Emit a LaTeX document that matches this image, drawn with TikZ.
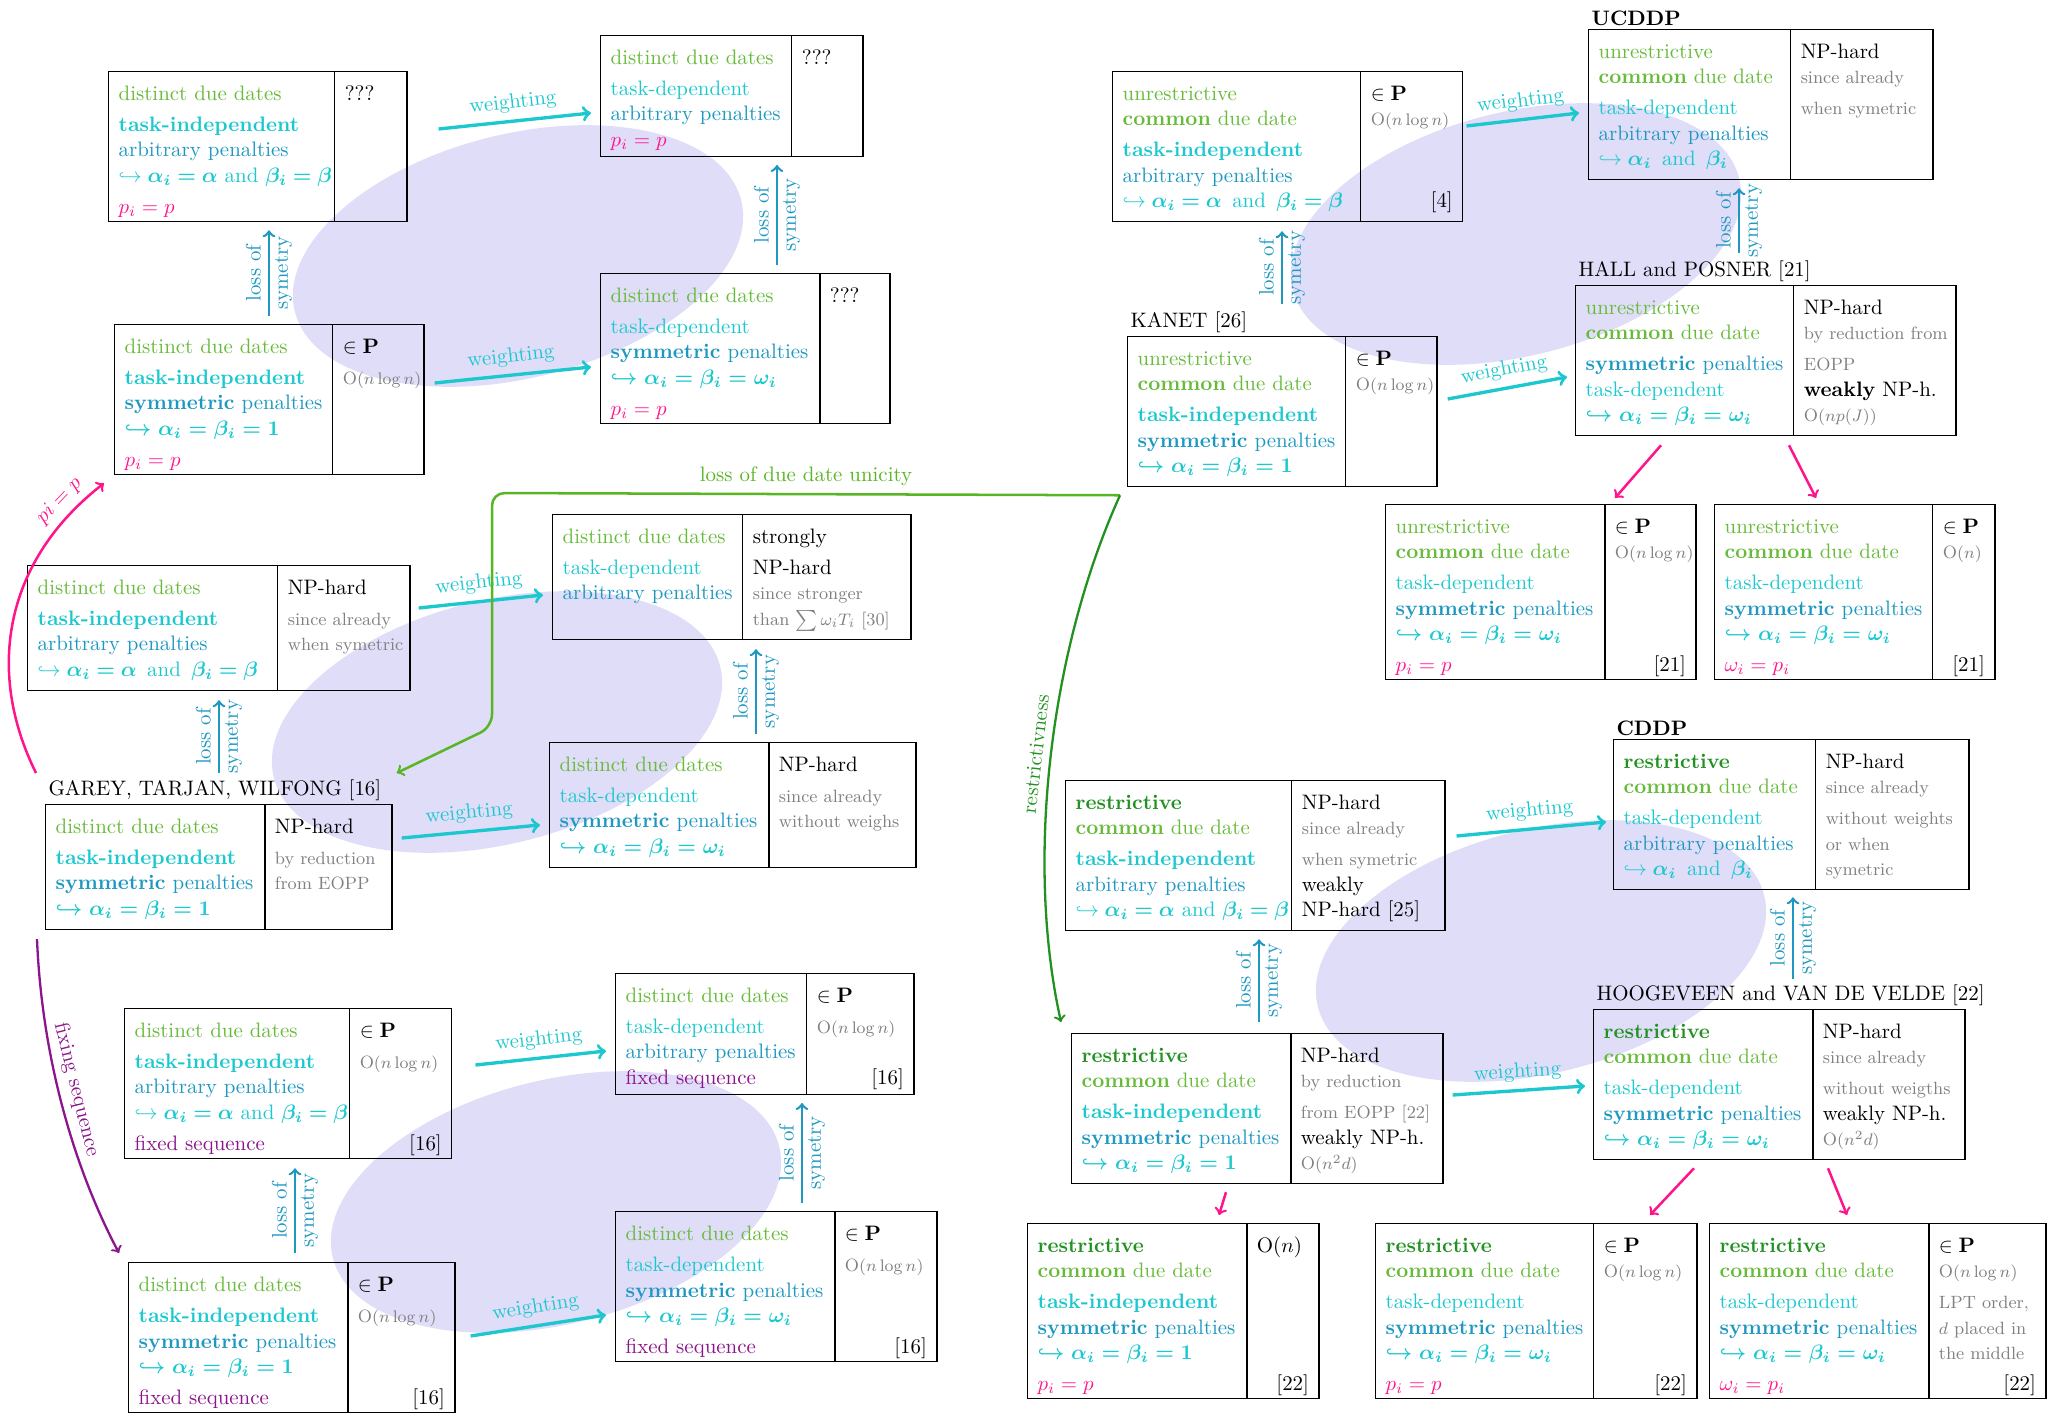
\documentclass[tikz,border=0pt]{standalone}
\usepackage{array}
\usepackage{bm}
\usepackage{tikz}

\definecolor{dgreen}{RGB}{104,186,58}
\definecolor{rgreen}{RGB}{34,145,34}
\definecolor{lgreen}{RGB}{88,182,36}
\definecolor{tcyan}{RGB}{28,200,206}
\definecolor{tblue}{RGB}{30,152,192}
\definecolor{pmag}{RGB}{255,20,140}
\definecolor{fpurple}{RGB}{140,20,140}
\definecolor{notegray}{RGB}{128,128,128}
\definecolor{blobfill}{RGB}{224,221,249}

\setlength{\tabcolsep}{4.5pt}
\setlength{\arrayrulewidth}{0.6pt}

\newcommand{\dued}{\textcolor{dgreen}{distinct due dates}}
\newcommand{\unres}{\textcolor{dgreen}{unrestrictive}}
\newcommand{\restr}{\textcolor{rgreen}{\textbf{restrictive}}}
\newcommand{\comdd}{\textcolor{dgreen}{\textbf{common} due date}}
\newcommand{\tind}{\textcolor{tcyan}{\textbf{task-independent}}}
\newcommand{\tdep}{\textcolor{tcyan}{task-dependent}}
\newcommand{\arbp}{\textcolor{tblue}{arbitrary penalties}}
\newcommand{\symp}{\textcolor{tblue}{\textbf{symmetric} penalties}}
\newcommand{\hkab}{\textcolor{tcyan}{$\hookrightarrow\bm{\alpha_i=\alpha}$ and $\bm{\beta_i=\beta}$}}
\newcommand{\hkabw}{\textcolor{tcyan}{$\hookrightarrow\bm{\alpha_i=\alpha}$\enspace and\enspace$\bm{\beta_i=\beta}$}}
\newcommand{\hkone}{\textcolor{tcyan}{\boldmath$\hookrightarrow\alpha_i=\beta_i=1$}}
\newcommand{\hkw}{\textcolor{tcyan}{\boldmath$\hookrightarrow\alpha_i=\beta_i=\omega_i$}}
\newcommand{\hkaibi}{\textcolor{tcyan}{$\hookrightarrow\bm{\alpha_i}$\enspace and\enspace$\bm{\beta_i}$}}
\newcommand{\pisp}{\textcolor{pmag}{$p_i=p$}}
\newcommand{\wipi}{\textcolor{pmag}{$\omega_i=p_i$}}
\newcommand{\fixseq}{\textcolor{fpurple}{fixed sequence}}
\newcommand{\inP}{$\in\mathbf{P}$}
\newcommand{\gnote}[1]{{\fontsize{8.5pt}{10pt}\selectfont\color{notegray}#1}}
\newcommand{\toprow}{\rule{0pt}{13.5pt}}

\begin{document}
\begin{tikzpicture}[x=0.478pt, y=-0.478pt,
    probbox/.style={anchor=north west, inner sep=0pt, outer sep=0pt},
    boxlbl/.style={anchor=south west, inner sep=1.5pt},
    blob/.style={fill=blobfill},
    weightarr/.style={->, draw=tcyan, line width=1.6pt},
    weightlbl/.style={midway, above, sloped, text=tcyan},
    symarr/.style={->, draw=tblue, line width=1.2pt},
    symlbl/.style={midway, sloped, align=center, text=tblue},
    pinkarr/.style={->, draw=pmag, line width=1.2pt},
    unicarr/.style={->, draw=lgreen, line width=1.2pt, rounded corners=6pt},
    restarr/.style={->, draw=rgreen, line width=1.1pt},
    fixarr/.style={->, draw=fpurple, line width=1.1pt}]
    \useasboundingbox (0,0) rectangle (2067,1415);

    % background blobs
    \fill[blob, rotate around={14:(518,256)}] (518,256) ellipse [x radius=230, y radius=122];
    \fill[blob, rotate around={14:(497,722)}] (497,722) ellipse [x radius=230, y radius=122];
    \fill[blob, rotate around={14:(556,1202)}] (556,1202) ellipse [x radius=230, y radius=122];
    \fill[blob, rotate around={14:(1516,234)}] (1516,234) ellipse [x radius=230, y radius=122];
    \fill[blob, rotate around={14:(1541,951)}] (1541,951) ellipse [x radius=230, y radius=122];

    % distinct due dates
    \node[probbox] (d1) at (108,71) {\begin{tabular}{|w{l}{98.5pt}|w{l}{24.9pt}|}\hline
        \toprow\dued & ??? \\[3pt]
        \tind & \\
        \arbp & \\
        \hkab & \\[3pt]
        \pisp & \\ \hline
    \end{tabular}};
    \node[probbox] (d2) at (600,35) {\begin{tabular}{|w{l}{81.8pt}|w{l}{24.4pt}|}\hline
        \toprow\dued & ??? \\[3pt]
        \tdep & \\
        \arbp & \\
        \pisp & \\[1pt] \hline
    \end{tabular}};
    \node[probbox] (d3) at (114,324) {\begin{tabular}{|w{l}{94.7pt}|w{l}{34pt}|}\hline
        \toprow\dued & \inP \\[3pt]
        \tind & \gnote{O$(n\log n)$} \\
        \symp & \\
        \hkone & \\[3pt]
        \pisp & \\ \hline
    \end{tabular}};
    \node[probbox] (d4) at (600,273) {\begin{tabular}{|w{l}{95.2pt}|w{l}{23.9pt}|}\hline
        \toprow\dued & ??? \\[3pt]
        \tdep & \\
        \symp & \\
        \hkw & \\[3pt]
        \pisp & \\ \hline
    \end{tabular}};
    \node[probbox] (d5) at (27,565) {\begin{tabular}{|w{l}{110pt}|w{l}{53.6pt}|}\hline
        \toprow\dued & NP-hard \\[3pt]
        \tind & \gnote{since already} \\
        \arbp & \gnote{when symetric} \\
        \hkabw & \\[3pt] \hline
    \end{tabular}};
    \node[probbox] (d6) at (552,514) {\begin{tabular}{|w{l}{81.3pt}|w{l}{70.8pt}|}\hline
        \toprow\dued & strongly \\[3pt]
        \tdep & NP-hard \\
        \arbp & \gnote{since stronger} \\
        & \gnote{than $\sum\omega_iT_i$ [30]} \\[3pt] \hline
    \end{tabular}};
    \node[probbox] (d7) at (45,804) {\begin{tabular}{|w{l}{95.2pt}|w{l}{51.2pt}|}\hline
        \toprow\dued & NP-hard \\[3pt]
        \tind & \gnote{by reduction} \\
        \symp & \gnote{from EOPP} \\
        \hkone & \\[3pt] \hline
    \end{tabular}};
    \node[probbox] (d8) at (549,742) {\begin{tabular}{|w{l}{95.2pt}|w{l}{60.7pt}|}\hline
        \toprow\dued & NP-hard \\[3pt]
        \tdep & \gnote{since already} \\
        \symp & \gnote{without weighs} \\
        \hkw & \\[3pt] \hline
    \end{tabular}};
    \node[probbox] (d9) at (124,1008) {\begin{tabular}{|w{l}{98pt}|w{l}{39.2pt}|}\hline
        \toprow\dued & \inP \\[3pt]
        \tind & \gnote{O$(n\log n)$} \\
        \arbp & \\
        \hkab & \\[3pt]
        \fixseq & \hfill[16] \\ \hline
    \end{tabular}};
    \node[probbox] (d10) at (615,973) {\begin{tabular}{|w{l}{81.8pt}|w{l}{41.6pt}|}\hline
        \toprow\dued & \inP \\[3pt]
        \tdep & \gnote{O$(n\log n)$} \\
        \arbp & \\
        \fixseq & \hfill[16] \\[1pt] \hline
    \end{tabular}};
    \node[probbox] (d11) at (128,1262) {\begin{tabular}{|w{l}{95.2pt}|w{l}{41.6pt}|}\hline
        \toprow\dued & \inP \\[3pt]
        \tind & \gnote{O$(n\log n)$} \\
        \symp & \\
        \hkone & \\[3pt]
        \fixseq & \hfill[16] \\ \hline
    \end{tabular}};
    \node[probbox] (d12) at (615,1211) {\begin{tabular}{|w{l}{95.2pt}|w{l}{39.2pt}|}\hline
        \toprow\dued & \inP \\[3pt]
        \tdep & \gnote{O$(n\log n)$} \\
        \symp & \\
        \hkw & \\[3pt]
        \fixseq & \hfill[16] \\ \hline
    \end{tabular}};

    % unrestrictive common due date
    \node[probbox] (u1) at (1112,71) {\begin{tabular}{|w{l}{109pt}|w{l}{39.2pt}|}\hline
        \toprow\unres & \inP \\
        \comdd & \gnote{O$(n\log n)$} \\[3pt]
        \tind & \\
        \arbp & \\
        \hkabw & \hfill[4] \\[3pt] \hline
    \end{tabular}};
    \node[probbox] (u2) at (1588,29) {\begin{tabular}{|w{l}{87pt}|w{l}{58.4pt}|}\hline
        \toprow\unres & NP-hard \\
        \comdd & \gnote{since already} \\[3pt]
        \tdep & \gnote{when symetric} \\
        \arbp & \\
        \hkaibi & \\[3pt] \hline
    \end{tabular}};
    \node[probbox] (u3) at (1127,336) {\begin{tabular}{|w{l}{94.7pt}|w{l}{34pt}|}\hline
        \toprow\unres & \inP \\
        \comdd & \gnote{O$(n\log n)$} \\[3pt]
        \tind & \\
        \symp & \\
        \hkone & \\[3pt] \hline
    \end{tabular}};
    \node[probbox] (u4) at (1575,285) {\begin{tabular}{|w{l}{94.7pt}|w{l}{67.9pt}|}\hline
        \toprow\unres & NP-hard \\
        \comdd & \gnote{by reduction from} \\[3pt]
        \symp & \gnote{EOPP} \\
        \tdep & \textbf{weakly} NP-h. \\
        \hkw & \gnote{O$(np(J))$} \\[3pt] \hline
    \end{tabular}};
    \node[probbox] (u5) at (1385,504) {\begin{tabular}{|w{l}{95.2pt}|w{l}{34pt}|}\hline
        \toprow\unres & \inP \\
        \comdd & \gnote{O$(n\log n)$} \\[3pt]
        \tdep & \\
        \symp & \\
        \hkw & \\[3pt]
        \pisp & \hfill[21] \\ \hline
    \end{tabular}};
    \node[probbox] (u6) at (1714,504) {\begin{tabular}{|w{l}{94.7pt}|w{l}{20.1pt}|}\hline
        \toprow\unres & \inP \\
        \comdd & \gnote{O$(n)$} \\[3pt]
        \tdep & \\
        \symp & \\
        \hkw & \\[3pt]
        \wipi & \hfill[21] \\ \hline
    \end{tabular}};

    % restrictive common due date
    \node[probbox] (r1) at (1065,780) {\begin{tabular}{|w{l}{98.5pt}|w{l}{63.6pt}|}\hline
        \toprow\restr & NP-hard \\
        \comdd & \gnote{since already} \\[3pt]
        \tind & \gnote{when symetric} \\
        \arbp & weakly \\
        \hkab & NP-hard [25] \\[3pt] \hline
    \end{tabular}};
    \node[probbox] (r2) at (1613,739) {\begin{tabular}{|w{l}{87pt}|w{l}{63.6pt}|}\hline
        \toprow\restr & NP-hard \\
        \comdd & \gnote{since already} \\[3pt]
        \tdep & \gnote{without weights} \\
        \arbp & \gnote{or when} \\
        \hkaibi & \gnote{symetric} \\[3pt] \hline
    \end{tabular}};
    \node[probbox] (r3) at (1071,1033) {\begin{tabular}{|w{l}{95.2pt}|w{l}{63.1pt}|}\hline
        \toprow\restr & NP-hard \\
        \comdd & \gnote{by reduction} \\[3pt]
        \tind & \gnote{from EOPP [22]} \\
        \symp & weakly NP-h. \\
        \hkone & \gnote{O$(n^2d)$} \\[3pt] \hline
    \end{tabular}};
    \node[probbox] (r4) at (1593,1009) {\begin{tabular}{|w{l}{95.2pt}|w{l}{63.1pt}|}\hline
        \toprow\restr & NP-hard \\
        \comdd & \gnote{since already} \\[3pt]
        \tdep & \gnote{without weigths} \\
        \symp & weakly NP-h. \\
        \hkw & \gnote{O$(n^2d)$} \\[3pt] \hline
    \end{tabular}};
    \node[probbox] (r5) at (1027,1223) {\begin{tabular}{|w{l}{95.2pt}|w{l}{24.9pt}|}\hline
        \toprow\restr & O$(n)$ \\
        \comdd & \\[3pt]
        \tind & \\
        \symp & \\
        \hkone & \\[3pt]
        \pisp & \hfill[22] \\ \hline
    \end{tabular}};
    \node[probbox] (r6) at (1375,1223) {\begin{tabular}{|w{l}{94.7pt}|w{l}{39.7pt}|}\hline
        \toprow\restr & \inP \\
        \comdd & \gnote{O$(n\log n)$} \\[3pt]
        \tdep & \\
        \symp & \\
        \hkw & \\[3pt]
        \pisp & \hfill[22] \\ \hline
    \end{tabular}};
    \node[probbox] (r7) at (1709,1223) {\begin{tabular}{|w{l}{95.2pt}|w{l}{46.4pt}|}\hline
        \toprow\restr & \inP \\
        \comdd & \gnote{O$(n\log n)$} \\[3pt]
        \tdep & \gnote{LPT order,} \\
        \symp & \gnote{$d$ placed in} \\
        \hkw & \gnote{the middle} \\[3pt]
        \wipi & \hfill[22] \\ \hline
    \end{tabular}};

    % titles over some boxes
    \node[boxlbl] (lgarey) at (d7.north west) {GAREY, TARJAN, WILFONG [16]};
    \node[boxlbl] (lucddp) at (u2.north west) {\textbf{UCDDP}};
    \node[boxlbl] (lkanet) at (u3.north west) {KANET [26]};
    \node[boxlbl] (lhall) at (u4.north west) {HALL and POSNER [21]};
    \node[boxlbl] (lcddp) at (r2.north west) {\textbf{CDDP}};
    \node[boxlbl] (lhoog) at (r4.north west) {HOOGEVEEN and VAN DE VELDE [22]};

    % weighting
    \draw[weightarr] ([shift={(31,58)}]d1.north east) -- node[weightlbl] {weighting} ([shift={(-9,78)}]d2.north west);
    \draw[weightarr] ([shift={(10,59)}]d3.north east) -- node[weightlbl] {weighting} ([shift={(-9,94)}]d4.north west);
    \draw[weightarr] ([shift={(8,43)}]d5.north east) -- node[weightlbl] {weighting} ([shift={(-9,81)}]d6.north west);
    \draw[weightarr] ([shift={(9,34)}]d7.north east) -- node[weightlbl] {weighting} ([shift={(-9,83)}]d8.north west);
    \draw[weightarr] ([shift={(23,57)}]d9.north east) -- node[weightlbl] {weighting} ([shift={(-9,78)}]d10.north west);
    \draw[weightarr] ([shift={(15,74)}]d11.north east) -- node[weightlbl] {weighting} ([shift={(-9,104)}]d12.north west);
    \draw[weightarr] ([shift={(3,55)}]u1.north east) -- node[weightlbl] {weighting} ([shift={(-9,84)}]u2.north west);
    \draw[weightarr] ([shift={(10,63)}]u3.north east) -- node[weightlbl] {weighting} ([shift={(-8,92)}]u4.north west);
    \draw[weightarr] ([shift={(11,56)}]r1.north east) -- node[weightlbl] {weighting} ([shift={(-7,83)}]r2.north west);
    \draw[weightarr] ([shift={(9,62)}]r3.north east) -- node[weightlbl] {weighting} ([shift={(-8,77)}]r4.north west);

    % loss of symetry
    \draw[symarr] ([shift={(155,-8)}]d3.north west) -- node[symlbl] {loss of\\[1pt]symetry} ([shift={(161,8)}]d1.south west);
    \draw[symarr] ([shift={(177,-8)}]d4.north west) -- node[symlbl] {loss of\\[1pt]symetry} ([shift={(177,8)}]d2.south west);
    \draw[symarr] ([shift={(174,-31)}]d7.north west) -- node[symlbl] {loss of\\[1pt]symetry} ([shift={(192,9)}]d5.south west);
    \draw[symarr] ([shift={(207,-8)}]d8.north west) -- node[symlbl] {loss of\\[1pt]symetry} ([shift={(204,9)}]d6.south west);
    \draw[symarr] ([shift={(167,-9)}]d11.north west) -- node[symlbl] {loss of\\[1pt]symetry} ([shift={(171,9)}]d9.south west);
    \draw[symarr] ([shift={(187,-8)}]d12.north west) -- node[symlbl] {loss of\\[1pt]symetry} ([shift={(187,8)}]d10.south west);
    \draw[symarr] ([shift={(155,-32)}]u3.north west) -- node[symlbl] {loss of\\[1pt]symetry} ([shift={(170,9)}]u1.south west);
    \draw[symarr] ([shift={(164,-32)}]u4.north west) -- node[symlbl] {loss of\\[1pt]symetry} ([shift={(151,8)}]u2.south west);
    \draw[symarr] ([shift={(188,-11)}]r3.north west) -- node[symlbl] {loss of\\[1pt]symetry} ([shift={(194,8)}]r1.south west);
    \draw[symarr] ([shift={(200,-30)}]r4.north west) -- node[symlbl] {loss of\\[1pt]symetry} ([shift={(180,7)}]r2.south west);

    % special cases
    \draw[pinkarr] ([shift={(86,9)}]u4.south west) -- ([shift={(230,-6)}]u5.north west);
    \draw[pinkarr] ([shift={(214,9)}]u4.south west) -- ([shift={(102,-6)}]u6.north west);
    \draw[pinkarr] ([shift={(155,8)}]r3.south west) -- ([shift={(192,-8)}]r5.north west);
    \draw[pinkarr] ([shift={(101,8)}]r4.south west) -- ([shift={(275,-8)}]r6.north west);
    \draw[pinkarr] ([shift={(235,8)}]r4.south west) -- ([shift={(138,-8)}]r7.north west);
    \draw[pinkarr] ([shift={(-9,-31)}]d7.north west) .. controls (-15,670) and (5,560) .. ([shift={(-10,8)}]d3.south west)
        node[pos=0.88, sloped, above, text=pmag] {$pi=p$};
    \draw[fixarr] ([shift={(-8,9)}]d7.south west) .. controls (42,1060) and (75,1170) .. ([shift={(-9,-9)}]d11.north west)
        node[pos=0.45, sloped, above, text=fpurple] {fixing sequence};

    % due date
    \coordinate (unic) at ([shift={(-7,8)}]u3.south west);
    \draw[unicarr] (unic) -- node[above, text=lgreen] {loss of due date unicity} (492,493) -- (492,727) -- ([shift={(4,-31)}]d7.north east);
    \draw[restarr] (unic) .. controls (1050,650) and (1025,860) .. ([shift={(-10,-11)}]r3.north west)
        node[pos=0.5, sloped, above, text=rgreen] {restrictivness};
\end{tikzpicture}
\end{document}
